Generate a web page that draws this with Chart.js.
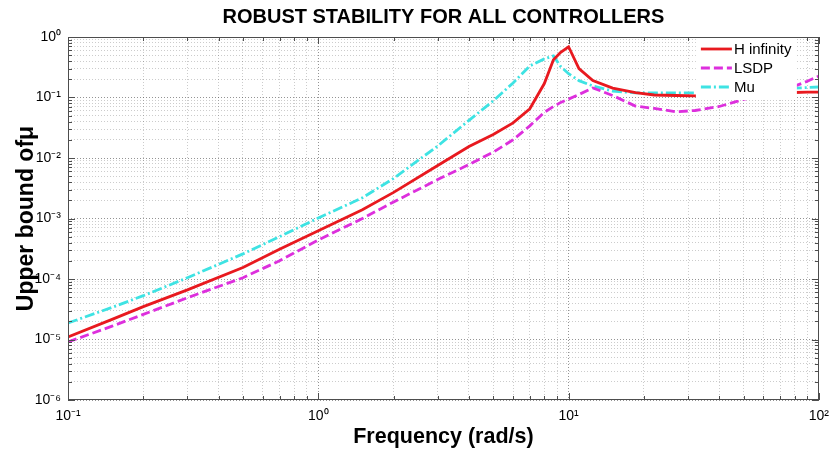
<!DOCTYPE html>
<html><head><meta charset="utf-8">
<script src="https://cdn.jsdelivr.net/npm/chart.js@4"></script>
<style>html,body{margin:0;padding:0;background:#fff}canvas{display:block}</style>
</head><body>
<canvas id="c" width="837" height="454"></canvas>
<script>
// ---- data ----
const freq = [0.1, 0.15, 0.2, 0.3, 0.5, 0.7, 1, 1.5, 2, 3, 4, 5, 6, 7, 8, 8.7, 9.3, 10, 11, 12.5, 15, 18.5, 22, 27, 32, 40, 50, 60, 70, 80, 90, 100];
const hInfinity = [1.1e-5, 2.15e-5, 3.5e-5, 6.6e-5, 1.55e-4, 3.1e-4, 6.3e-4, 1.4e-3, 2.7e-3, 7.5e-3, 0.0155, 0.0245, 0.038, 0.065, 0.17, 0.42, 0.56, 0.69, 0.30, 0.19, 0.143, 0.12, 0.11, 0.108, 0.106, 0.106, 0.108, 0.11, 0.114, 0.121, 0.123, 0.123];
const lsdp = [9.1e-6, 1.66e-5, 2.6e-5, 4.9e-5, 1.05e-4, 2.0e-4, 4.4e-4, 1.0e-3, 1.88e-3, 4.4e-3, 7.8e-3, 0.0125, 0.020, 0.034, 0.057, 0.071, 0.083, 0.094, 0.112, 0.144, 0.108, 0.072, 0.066, 0.058, 0.061, 0.071, 0.093, 0.112, 0.132, 0.154, 0.186, 0.226];
const mu = [1.87e-5, 3.4e-5, 5.3e-5, 1.05e-4, 2.6e-4, 5.0e-4, 1.02e-3, 2.2e-3, 4.6e-3, 0.0158, 0.042, 0.088, 0.174, 0.333, 0.435, 0.485, 0.325, 0.247, 0.19, 0.155, 0.128, 0.119, 0.119, 0.119, 0.119, 0.123, 0.128, 0.133, 0.138, 0.143, 0.146, 0.149];
const seriesNames = ['H infinity', 'LSDP', 'Mu'];
const xTickValues = [0.1, 1, 10, 100];
const xTickLabels = ['10⁻¹', '10⁰', '10¹', '10²'];
const yTickValues = [1e-6, 1e-5, 1e-4, 1e-3, 1e-2, 1e-1, 1];
const yTickLabels = ['10⁻⁶', '10⁻⁵', '10⁻⁴', '10⁻³', '10⁻²', '10⁻¹', '10⁰'];
const titleText = 'ROBUST STABILITY FOR ALL CONTROLLERS';
const xTitle = 'Frequency (rad/s)';
const yTitle = 'Upper bound ofμ';

// ---- helpers ----
const FONT = '"Liberation Sans", Arial, Helvetica, sans-serif';
Chart.defaults.font.family = FONT;
Chart.defaults.color = '#000';
function pts(ys) { return freq.map((f, i) => ({x: f, y: ys[i]})); }
function logTicks(min, max) {
  const out = [];
  for (let e = Math.round(Math.log10(min)); e <= Math.round(Math.log10(max)); e++) {
    for (let m = 1; m <= 9; m++) {
      const v = parseFloat((m * Math.pow(10, e)).toPrecision(6));
      if (v >= min * 0.999999 && v <= max * 1.000001) out.push({value: v});
    }
  }
  return out;
}
function isMajor(v) { const l = Math.log10(v); return Math.abs(l - Math.round(l)) < 1e-6; }
function labelFor(v, vals, labels) {
  for (let i = 0; i < vals.length; i++) if (Math.abs(Math.log10(v) - Math.log10(vals[i])) < 1e-6) return labels[i];
  return '';
}
const gridColor = (c) => (c.tick && isMajor(c.tick.value)) ? 'rgba(0,0,0,0.42)' : 'rgba(0,0,0,0.2)';

const framePlugin = {
  id: 'frameAndLegend',
  afterDatasetsDraw(chart) {
    const {ctx, chartArea: a, scales: {x, y}} = chart;
    ctx.save();
    ctx.setLineDash([]);
    ctx.strokeStyle = '#4d4d4d';
    ctx.lineWidth = 1;
    // inward tick marks
    ctx.beginPath();
    x.ticks.forEach(t => {
      const px = Math.round(x.getPixelForValue(t.value)) + 0.5;
      const len = isMajor(t.value) ? 7 : 4;
      ctx.moveTo(px, a.bottom); ctx.lineTo(px, a.bottom - len);
      ctx.moveTo(px, a.top); ctx.lineTo(px, a.top + len);
    });
    y.ticks.forEach(t => {
      const py = Math.round(y.getPixelForValue(t.value)) + 0.5;
      const len = isMajor(t.value) ? 7 : 4;
      ctx.moveTo(a.left, py); ctx.lineTo(a.left + len, py);
      ctx.moveTo(a.right, py); ctx.lineTo(a.right - len, py);
    });
    ctx.stroke();
    ctx.strokeRect(Math.round(a.left) + 0.5, Math.round(a.top) + 0.5, Math.round(a.width) - 1, Math.round(a.height) - 1);
    // legend box inside the plot
    const lx = a.right - 123, ly = a.top + 1, lw = 101, lh = 62;
    ctx.fillStyle = '#fff';
    ctx.fillRect(lx, ly, lw, lh);
    chart.data.datasets.forEach((ds, i) => {
      const yy = ly + 11 + i * 19;
      ctx.beginPath();
      ctx.setLineDash(ds.borderDash || []);
      ctx.strokeStyle = ds.borderColor;
      ctx.lineWidth = ds.borderWidth;
      ctx.moveTo(lx + 5, yy); ctx.lineTo(lx + 36, yy);
      ctx.stroke();
      ctx.setLineDash([]);
      ctx.fillStyle = '#000';
      ctx.font = '15px ' + FONT;
      ctx.textBaseline = 'middle';
      ctx.textAlign = 'left';
      ctx.fillText(ds.label, lx + 38, yy + 1);
    });
    ctx.restore();
  }
};

new Chart(document.getElementById('c'), {
  type: 'line',
  data: {
    datasets: [
      {label: seriesNames[0], data: pts(hInfinity), borderColor: '#e8191f', borderWidth: 2.8, borderDash: [], pointRadius: 0, tension: 0, fill: false},
      {label: seriesNames[1], data: pts(lsdp), borderColor: '#dd2fdd', borderWidth: 2.8, borderDash: [9, 4], pointRadius: 0, tension: 0, fill: false},
      {label: seriesNames[2], data: pts(mu), borderColor: '#3ee3e3', borderWidth: 2.8, borderDash: [10, 3, 2, 3], pointRadius: 0, tension: 0, fill: false}
    ]
  },
  options: {
    responsive: false,
    animation: false,
    devicePixelRatio: 1,
    layout: {padding: {left: 0, right: 12, top: 0, bottom: 0}},
    plugins: {
      legend: {display: false},
      tooltip: {enabled: false},
      title: {display: true, text: titleText, fullSize: false, color: '#000',
        font: {size: 20, weight: 'bold'}, padding: {top: 5, bottom: 8}}
    },
    scales: {
      x: {
        type: 'logarithmic', min: 0.1, max: 100,
        afterBuildTicks: s => { s.ticks = logTicks(0.1, 100); },
        afterFit: s => { s.height = 54; },
        ticks: {autoSkip: false, maxRotation: 0, minRotation: 0, padding: 8, font: {size: 14}, color: '#000',
          callback: v => labelFor(v, xTickValues, xTickLabels)},
        grid: {color: gridColor, drawTicks: false, lineWidth: 1},
        border: {display: false, dash: [1, 2]},
        title: {display: true, text: xTitle, color: '#000', font: {size: 21.5, weight: 'bold'}, padding: {top: 0, bottom: 4}}
      },
      y: {
        type: 'logarithmic', min: 1e-6, max: 1,
        afterBuildTicks: s => { s.ticks = logTicks(1e-6, 1); },
        afterFit: s => { s.width = 68; },
        ticks: {autoSkip: false, padding: 7, font: {size: 14}, color: '#000',
          callback: v => labelFor(v, yTickValues, yTickLabels)},
        grid: {color: gridColor, drawTicks: false, lineWidth: 1},
        border: {display: false, dash: [1, 2]},
        title: {display: true, text: yTitle, color: '#000', font: {size: 23, weight: 'bold'}, padding: {top: 13, bottom: 0}}
      }
    }
  },
  plugins: [framePlugin]
});
</script>
</body></html>
